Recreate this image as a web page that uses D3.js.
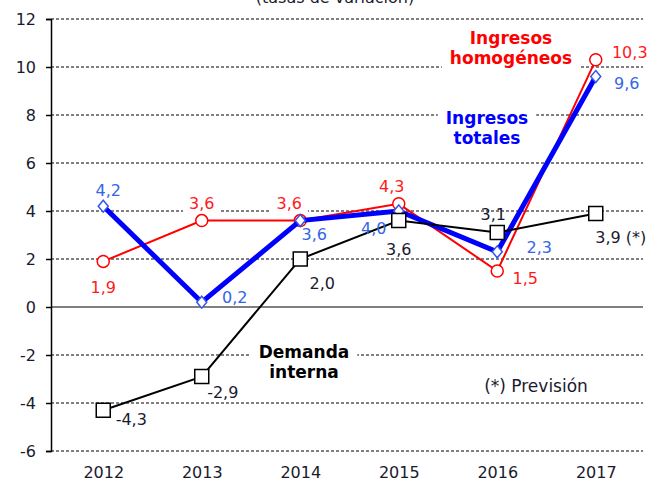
<!DOCTYPE html>
<html>
<head>
<meta charset="utf-8">
<script src="https://cdn.jsdelivr.net/npm/d3@7"></script>
<style>
  body { margin: 0; background: #fff; }
  svg text { font-family: "DejaVu Sans", Verdana, sans-serif; }
</style>
</head>
<body>
<div id="chart"></div>
<script>
// Data
var years = ["2012", "2013", "2014", "2015", "2016", "2017"];
var homogeneos = [1.9, 3.6, 3.6, 4.3, 1.5, 10.3];
var totales = [4.2, 0.2, 3.6, 4.0, 2.3, 9.6];
var demanda = [-4.3, -2.9, 2.0, 3.6, 3.1, 3.9];
var yTicks = [-6, -4, -2, 0, 2, 4, 6, 8, 10, 12];

// label offsets (dx, dy) from each point, and whether the label hides the grid
var offHomog = [[0, 26, 0], [0, -17, 1], [-11, -17, 1], [-7, -17, 0], [28, 7, 0], [34, -7, 0]];
var offTot = [[5, -16, 0], [33, -5, 0], [14, 14, 0], [-25, 17, 0], [42, -4, 0], [31, 7, 0]];
var offDem = [[28, 9, 0], [21, 16, 0], [22, 24, 0], [0, 29, 0], [-4, -18, 0], [25, 24, 0]];

var svgWidth = 659;
var svgHeight = 481;
var plot = { left: 51, right: 643, top: 19, bottom: 451 };

var svg = d3.select("#chart")
  .append("svg")
  .attr("width", svgWidth)
  .attr("height", svgHeight);

var x = d3.scalePoint()
  .domain(years)
  .range([54, 645])
  .padding(0.5);

var y = d3.scaleLinear()
  .domain([-6, 12])
  .range([plot.bottom, plot.top]);

// comma decimals, plain hyphen for minus
var locale = d3.formatLocale({ decimal: ",", thousands: ".", grouping: [3], currency: ["", "€"], minus: "-" });
var fmt = locale.format(".1f");
var tickFmt = locale.format("d");

// title (cut off at the top, as in the source)
svg.append("text")
  .attr("x", 335)
  .attr("y", 3)
  .attr("text-anchor", "middle")
  .attr("font-size", "16px")
  .attr("fill", "#1a1a2e")
  .text("(tasas de variación)");

// Gridlines
svg.append("g")
  .selectAll("line")
  .data(yTicks)
  .enter()
  .append("line")
  .attr("x1", plot.left)
  .attr("x2", plot.right)
  .attr("y1", d => y(d))
  .attr("y2", d => y(d))
  .attr("stroke", "#000")
  .attr("stroke-width", 1)
  .attr("stroke-dasharray", d => d === 0 ? null : "3,2");

// Left axis
var leftAxis = d3.axisLeft(y).tickValues(yTicks).tickFormat(tickFmt).tickSize(5).tickPadding(10);
var axisG = svg.append("g")
  .attr("transform", `translate(${plot.left}, 0)`)
  .call(leftAxis);
axisG.select(".domain").attr("stroke", "#000").attr("stroke-width", 1.5);
axisG.selectAll(".tick line").attr("stroke", "#000").attr("stroke-width", 1.5);
axisG.selectAll(".tick text")
  .attr("font-size", "16px")
  .attr("fill", "#1a1a2e")
  .style("font-family", "DejaVu Sans, sans-serif");

// Year labels
var bottomAxis = d3.axisBottom(x).tickSize(0).tickPadding(0);
var xG = svg.append("g")
  .attr("transform", `translate(0, 467)`)
  .call(bottomAxis);
xG.select(".domain").remove();
xG.selectAll(".tick text")
  .attr("font-size", "16px")
  .attr("fill", "#1a1a2e")
  .style("font-family", "DejaVu Sans, sans-serif");

// series annotations, with white boxes that cut the grid
var annotations = [
  { lines: ["Ingresos", "homogéneos"], x: 511, y: 38, color: "#ff0000" },
  { lines: ["Ingresos", "totales"], x: 487, y: 118, color: "#0000ff" },
  { lines: ["Demanda", "interna"], x: 304, y: 352, color: "#000" }
];

var bgLayer = svg.append("g");
var lineLayer = svg.append("g");
var textLayer = svg.append("g");

annotations.forEach(function(a) {
  var t = textLayer.append("text")
    .attr("x", a.x)
    .attr("y", a.y)
    .attr("text-anchor", "middle")
    .attr("font-size", "17px")
    .attr("font-weight", "bold")
    .attr("fill", a.color);
  a.lines.forEach(function(l, i) {
    t.append("tspan")
      .attr("x", a.x)
      .attr("dy", i === 0 ? "0.35em" : "1.15em")
      .text(l);
  });
  var bb = t.node().getBBox();
  bgLayer.append("rect")
    .attr("x", bb.x - 8)
    .attr("y", bb.y - 2)
    .attr("width", bb.width + 16)
    .attr("height", bb.height + 4)
    .attr("fill", "#fff");
});

textLayer.append("text")
  .attr("x", 536)
  .attr("y", 386)
  .attr("dy", "0.35em")
  .attr("text-anchor", "middle")
  .attr("font-size", "17px")
  .attr("fill", "#1a1a2e")
  .text("(*) Previsión");

var line = d3.line()
  .x((d, i) => x(years[i]))
  .y(d => y(d));

function drawSeries(values, color, width, marker, labelColor, offsets, suffix) {
  lineLayer.append("path")
    .datum(values)
    .attr("d", line)
    .attr("fill", "none")
    .attr("stroke", color)
    .attr("stroke-width", width)
    .attr("stroke-linejoin", "miter");

  lineLayer.selectAll(null)
    .data(values)
    .enter()
    .append("path")
    .attr("transform", (d, i) => `translate(${x(years[i])}, ${y(d)})`)
    .attr("d", marker.path)
    .attr("fill", "#fff")
    .attr("stroke", marker.stroke)
    .attr("stroke-width", 1.5);

  values.forEach(function(v, i) {
    var o = offsets[i];
    var t = textLayer.append("text")
      .attr("x", x(years[i]) + o[0])
      .attr("y", y(v) + o[1])
      .attr("dy", "0.35em")
      .attr("text-anchor", "middle")
      .attr("font-size", "16px")
      .attr("fill", labelColor)
      .text(fmt(v) + (suffix && i === values.length - 1 ? suffix : ""));
    if (o[2]) {
      var bb = t.node().getBBox();
      bgLayer.append("rect")
        .attr("x", bb.x - 6)
        .attr("y", bb.y)
        .attr("width", bb.width + 12)
        .attr("height", bb.height + 6)
        .attr("fill", "#fff");
    }
  });
}

var circle = { path: d3.symbol().type(d3.symbolCircle).size(113)(), stroke: "#ff0000" };
var diamond = { path: "M0,-6L5,0L0,6L-5,0Z", stroke: "#3355ee" };
var square = { path: "M-7,-7H7V7H-7Z", stroke: "#000" };

drawSeries(homogeneos, "#ff0000", 2, circle, "#ff1a1a", offHomog);
drawSeries(totales, "#0000ff", 5, diamond, "#3366e6", offTot);
drawSeries(demanda, "#000", 2, square, "#1a1a2e", offDem, " (*)");
</script>
</body>
</html>
